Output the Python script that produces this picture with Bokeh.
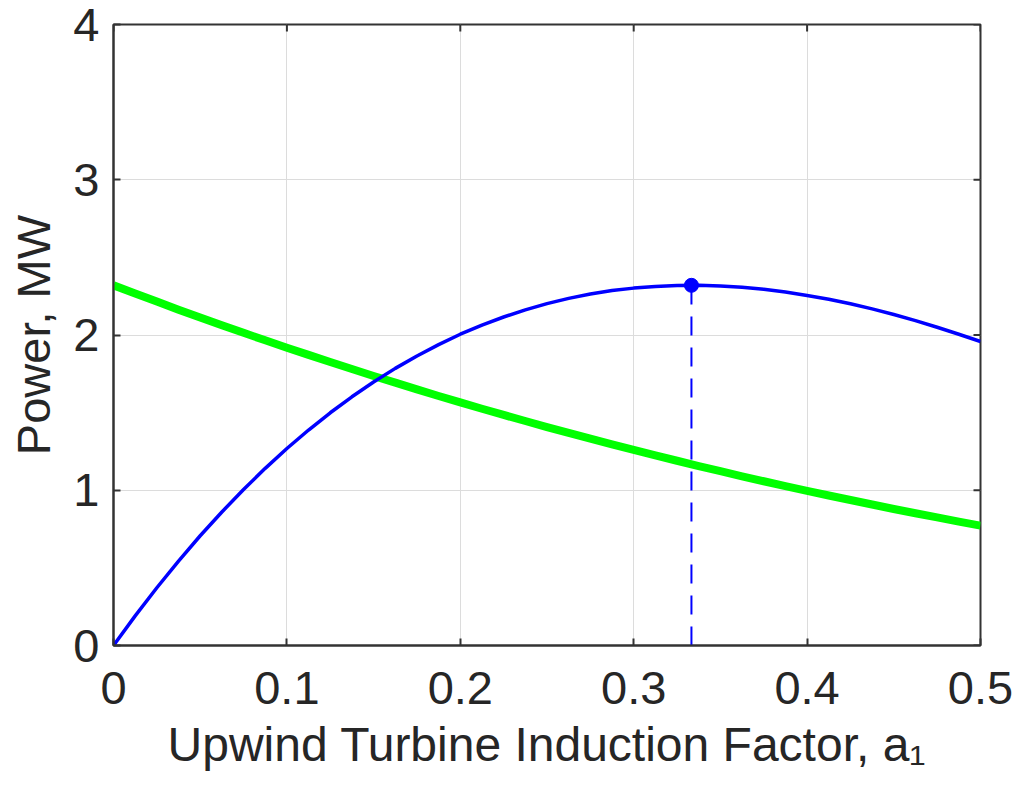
import math
from bokeh.plotting import figure
from bokeh.models import FixedTicker, LinearAxis, Range1d
from bokeh.embed import file_html
from bokeh.resources import INLINE

# Upwind turbine induction factor a1
a1 = [0.0, 0.0125, 0.025, 0.0375, 0.05, 0.0625, 0.075, 0.0875, 0.1, 0.1125,
      0.125, 0.1375, 0.15, 0.1625, 0.175, 0.1875, 0.2, 0.2125, 0.225, 0.2375,
      0.25, 0.2625, 0.275, 0.2875, 0.3, 0.3125, 0.325, 0.3375, 0.35, 0.3625,
      0.375, 0.3875, 0.4, 0.4125, 0.425, 0.4375, 0.45, 0.4625, 0.475, 0.4875, 0.5]
# Upwind turbine power, MW (blue)
p_upwind = [0.0, 0.191, 0.372, 0.544, 0.707, 0.860, 1.005, 1.141, 1.269, 1.388,
            1.499, 1.602, 1.697, 1.785, 1.865, 1.938, 2.005, 2.064, 2.116, 2.162,
            2.202, 2.236, 2.264, 2.286, 2.302, 2.313, 2.319, 2.320, 2.316, 2.307,
            2.294, 2.277, 2.255, 2.230, 2.201, 2.168, 2.132, 2.093, 2.050, 2.005, 1.958]
# Downwind turbine power, MW (green)
p_downwind = [2.320, 2.267, 2.215, 2.163, 2.113, 2.063, 2.014, 1.966, 1.918, 1.872,
              1.826, 1.781, 1.736, 1.693, 1.650, 1.607, 1.566, 1.525, 1.485, 1.446,
              1.407, 1.369, 1.332, 1.296, 1.260, 1.224, 1.190, 1.156, 1.123, 1.090,
              1.058, 1.027, 0.996, 0.966, 0.937, 0.908, 0.879, 0.852, 0.825, 0.798, 0.772]
# Optimum of upwind turbine
a_opt = [0.3333]
p_opt = [2.32]

x_ticks = [0, 0.1, 0.2, 0.3, 0.4, 0.5]
x_tick_labels = ["0", "0.1", "0.2", "0.3", "0.4", "0.5"]
y_ticks = [0, 1, 2, 3, 4]
y_tick_labels = ["0", "1", "2", "3", "4"]

TXT = "#262626"
AX = "#333333"
FONT = "Liberation Sans"

p = figure(width=1029, height=790, output_backend="svg", toolbar_location=None,
           x_range=Range1d(0, 0.5), y_range=Range1d(0, 4),
           min_border_left=113, min_border_right=49, min_border_top=24, min_border_bottom=145,
           x_axis_location=None, y_axis_location=None)
p.background_fill_color = "white"
p.border_fill_color = "white"
p.outline_line_color = AX
p.outline_line_width = 2

def style_axis(ax, ticks, labels):
    ax.ticker = FixedTicker(ticks=ticks)
    ax.major_label_overrides = {t: l for t, l in zip(ticks, labels)}
    ax.major_tick_in = 7
    ax.major_tick_out = 0
    ax.minor_tick_in = 0
    ax.minor_tick_out = 0
    ax.major_tick_line_color = AX
    ax.major_tick_line_width = 2
    ax.axis_line_color = AX
    ax.axis_line_width = 2
    ax.major_label_text_font = FONT
    ax.major_label_text_font_size = "47px"
    ax.major_label_text_color = TXT
    ax.axis_label_text_font = FONT
    ax.axis_label_text_font_style = "normal"
    ax.axis_label_text_color = TXT
    ax.axis_label_text_font_size = "47px"

xb = LinearAxis()
style_axis(xb, x_ticks, x_tick_labels)
xb.major_label_standoff = 26
xb.axis_label = "Upwind Turbine Induction Factor, a\u2081"
xb.axis_label_text_font_size = "48px"
xb.axis_label_standoff = 11
p.add_layout(xb, "below")

yl = LinearAxis()
style_axis(yl, y_ticks, y_tick_labels)
yl.major_label_standoff = 14
yl.axis_label = "Power, MW"
yl.axis_label_standoff = 10
p.add_layout(yl, "left")

p.xgrid.ticker = FixedTicker(ticks=x_ticks)
p.ygrid.ticker = FixedTicker(ticks=y_ticks)
p.xgrid.grid_line_color = "#dcdcdc"
p.ygrid.grid_line_color = "#dcdcdc"
p.xgrid.grid_line_width = 1
p.ygrid.grid_line_width = 1

# inward tick marks on the top and right edges (half of each dash is clipped by the frame)
p.scatter(x_ticks, [4] * len(x_ticks), marker="dash", size=14, angle=math.pi / 2,
          line_color=AX, line_width=2)
p.scatter([0.5] * len(y_ticks), y_ticks, marker="dash", size=14,
          line_color=AX, line_width=2)

p.line(a1, p_downwind, line_color="#00ff00", line_width=8, line_join="round")
p.line(a1, p_upwind, line_color="#0000ff", line_width=3.5, line_join="round")
p.segment(x0=a_opt, y0=[0], x1=a_opt, y1=p_opt, line_color="#0000ff",
          line_width=2, line_dash="19 12")
p.scatter(a_opt, p_opt, size=14, marker="circle", fill_color="#0000ff", line_color="#0000ff")

open("out.html", "w").write(file_html(p, INLINE))
